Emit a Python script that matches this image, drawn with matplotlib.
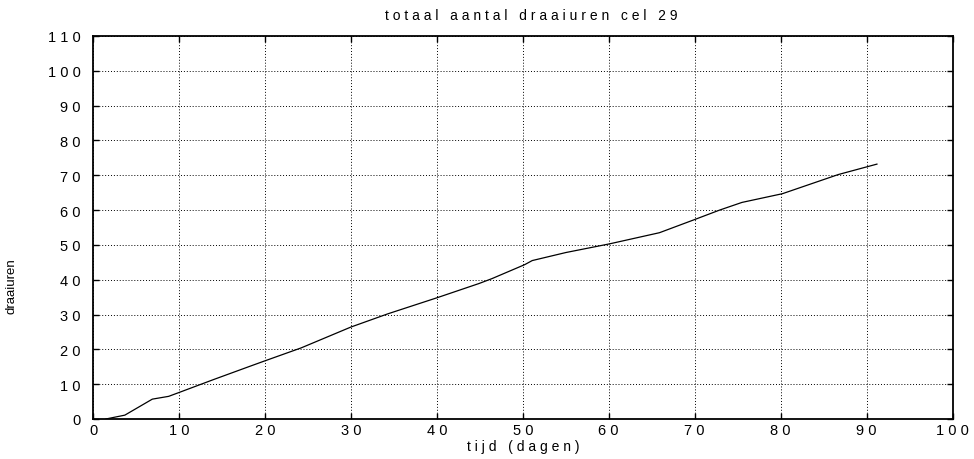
import numpy as np
import matplotlib.pyplot as plt

plt.rcParams['font.family'] = ['Liberation Sans', 'DejaVu Sans']

# running hours of cell 29 versus time
dagen = [1.5, 3.7, 6.9, 8.8, 10.0, 14.0, 18.1, 20.0, 24.2, 30.0, 34.3, 40.0,
         44.9, 46.4, 50.2, 51.1, 55.0, 60.1, 65.9, 69.8, 72.9, 75.5, 80.2,
         86.7, 91.2]
draaiuren = [0.0, 1.1, 5.7, 6.5, 7.6, 11.3, 15.0, 16.7, 20.4, 26.4, 30.2, 34.8,
             38.9, 40.3, 44.3, 45.5, 47.8, 50.3, 53.5, 57.1, 60.0, 62.2, 64.7,
             70.2, 73.2]

xticks = list(range(0, 101, 10))
yticks = list(range(0, 111, 10))


def spaced(s):
    # old plotter style: wide letter spacing
    return ' '.join(s)


fig = plt.figure(figsize=(9.74, 4.6), dpi=100)
ax = fig.add_axes([0.0955, 0.087, 0.8825, 0.8326])

ax.plot(dagen, draaiuren, color='black', linewidth=0.9)

ax.set_xlim(0, 100)
ax.set_ylim(0, 110)
ax.set_xticks(xticks)
ax.set_yticks(yticks)
ax.set_xticklabels([spaced(str(v)) for v in xticks], fontsize=10.5)
ax.set_yticklabels([spaced(str(v)) for v in yticks], fontsize=10.5)
ax.tick_params(axis='both', direction='in', length=4, width=1, top=True,
               right=True, colors='black')
ax.tick_params(axis='y', pad=9)
ax.tick_params(axis='x', pad=3)
ax.grid(True, color='black', linestyle=(0, (1, 2)), linewidth=0.7)

for sp in ax.spines.values():
    sp.set_linewidth(1.3)

ax.set_title(spaced('totaal aantal draaiuren cel 29'), fontsize=10, pad=12, x=0.51)
ax.set_xlabel(spaced('tijd (dagen)'), fontsize=10, labelpad=1)
ax.set_ylabel('draaiuren', fontsize=9.5)
ax.yaxis.set_label_coords(-0.088, 0.35)

plt.savefig('out.png', dpi=100)
